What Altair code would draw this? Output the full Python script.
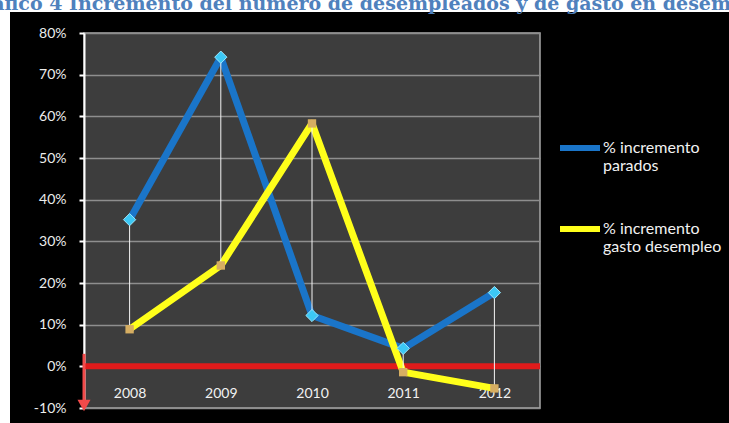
import altair as alt
import pandas as pd

# Source values (annual % change)
years = ["2008", "2009", "2010", "2011", "2012"]
parados = [0.352, 0.742, 0.122, 0.043, 0.177]
gasto = [0.089, 0.242, 0.583, -0.014, -0.053]
series_names = ["% incremento parados", "% incremento gasto desempleo"]
y_ticks = [-0.1, 0.0, 0.1, 0.2, 0.3, 0.4, 0.5, 0.6, 0.7, 0.8]
title_text = "Gráfico 4 Incremento del número de desempleados y de gasto en desempleo"

BLUE = "#1a75c9"
YELLOW = "#ffff1a"
RED = "#e01b1b"

long_df = pd.DataFrame({
    "year": years * 2,
    "value": parados + gasto,
    "serie": [series_names[0]] * len(years) + [series_names[1]] * len(years),
})
wide_df = pd.DataFrame({
    "year": years,
    "lo": [min(a, b) for a, b in zip(parados, gasto)],
    "hi": [max(a, b) for a, b in zip(parados, gasto)],
})
par_df = pd.DataFrame({"year": years, "value": parados})
gas_df = pd.DataFrame({"year": years, "value": gasto})
zero_df = pd.DataFrame({"value": [0.0]})
arrow_df = pd.DataFrame({"top": [0.03], "bottom": [-0.088]})
tip_df = pd.DataFrame({"value": [-0.094]})
title_df = pd.DataFrame({"t": [title_text]})
one_df = pd.DataFrame({"k": [0]})

W, H = 456, 375
PAD_L, PAD_T = 84, 33

x_enc = alt.X(
    "year:O",
    scale=alt.Scale(type="point", padding=0.5, domain=years),
    axis=alt.Axis(
        title=None, domain=False, ticks=False, tickSize=0, grid=False,
        labelColor="#f2f2f2", labelFontSize=14, labelFont="Lato",
        labelPadding=-22, labelAngle=0,
    ),
)
y_scale = alt.Scale(domain=[-0.1, 0.8], nice=False)
y_axis = alt.Axis(
    title=None, values=y_ticks,
    labelExpr="round(datum.value * 100) + '%'",
    grid=True, gridColor="#8e8e8e", gridWidth=1.5,
    domainColor="#ffffff", domainWidth=2,
    tickColor="#ffffff", tickSize=5, tickWidth=2,
    labelColor="#ececec", labelFontSize=14, labelFont="Lato", labelPadding=13,
)

# white margins around the dark panel
top_strip = alt.Chart(one_df).mark_rect(color="white").encode(
    x=alt.value(-PAD_L), x2=alt.value(729 - PAD_L),
    y=alt.value(-PAD_T), y2=alt.value(12 - PAD_T),
)
left_strip = alt.Chart(one_df).mark_rect(color="white").encode(
    x=alt.value(-PAD_L), x2=alt.value(10 - PAD_L),
    y=alt.value(-PAD_T), y2=alt.value(423 - PAD_T),
)
title = alt.Chart(title_df).mark_text(
    align="left", baseline="alphabetic", font="DejaVu Serif",
    fontWeight="bold", fontSize=19, color="#4f81bd",
).encode(text="t:N", x=alt.value(-118), y=alt.value(10 - PAD_T))

zero_line = alt.Chart(zero_df).mark_rule(color=RED, strokeWidth=6).encode(
    y=alt.Y("value:Q", scale=y_scale, axis=y_axis)
)

arrow = alt.Chart(arrow_df).mark_rule(color="#f24a4a", strokeWidth=3).encode(
    x=alt.value(0), y=alt.Y("top:Q", scale=y_scale), y2="bottom:Q"
)
arrow_tip = alt.Chart(tip_df).mark_point(
    shape="triangle-down", filled=True, color="#f24a4a", size=170, opacity=1
).encode(x=alt.value(0), y=alt.Y("value:Q", scale=y_scale))

lines = alt.Chart(long_df).mark_line(strokeWidth=7, strokeJoin="round").encode(
    x=x_enc,
    y=alt.Y("value:Q", scale=y_scale, axis=y_axis),
    color=alt.Color(
        "serie:N",
        scale=alt.Scale(domain=series_names, range=[BLUE, YELLOW]),
        legend=alt.Legend(
            title=None, orient="none", legendX=473, legendY=92,
            symbolType="stroke", symbolSize=1600, symbolStrokeWidth=6,
            labelColor="#f2f2f2", labelFont="Lato", labelFontSize=16,
            labelLimit=300, labelOffset=0, rowPadding=32,
            labelExpr="datum.label == '% incremento parados' ? ['% incremento', 'parados'] : ['% incremento', 'gasto desempleo']",
        ),
    ),
    order=alt.Order("year:O"),
)

drops = alt.Chart(wide_df).mark_rule(color="#f5f5f5", strokeWidth=1).encode(
    x=x_enc, y=alt.Y("lo:Q", scale=y_scale), y2="hi:Q"
)

par_pts = alt.Chart(par_df).mark_point(
    shape="diamond", filled=True, color="#3cc8f5", size=150, opacity=1,
    stroke="#9be8ff", strokeWidth=1,
).encode(x=x_enc, y=alt.Y("value:Q", scale=y_scale))
gas_pts = alt.Chart(gas_df).mark_point(
    shape="square", filled=True, color="#d6ae62", size=70, opacity=1,
).encode(x=x_enc, y=alt.Y("value:Q", scale=y_scale))

chart = alt.layer(
    top_strip, left_strip, title, zero_line, lines, drops, par_pts, gas_pts,
    arrow, arrow_tip,
).resolve_scale(y="shared").properties(
    width=W, height=H, background="black", autosize="none",
    padding={"left": PAD_L, "top": PAD_T, "right": 729 - PAD_L - W, "bottom": 423 - PAD_T - H},
).configure_view(fill="#3d3d3d", stroke="#a8a8a8", strokeWidth=1.5)

chart.save("out.html", embed_options={"renderer": "svg", "actions": False})
